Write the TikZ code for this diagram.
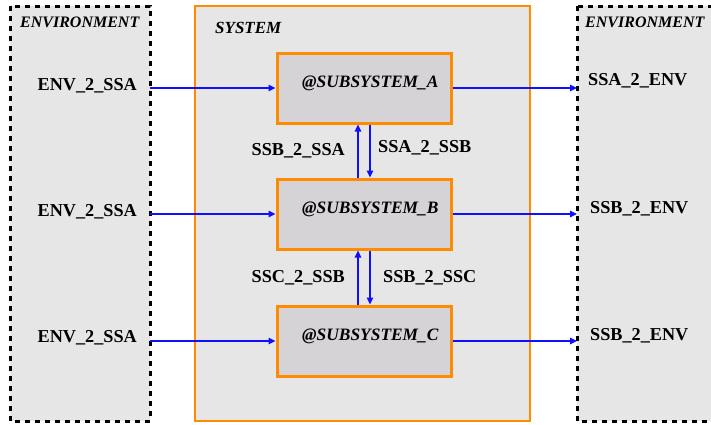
\documentclass[tikz,border=0pt]{standalone}
\usepackage{fontspec}
\setmainfont{Liberation Serif}
\usetikzlibrary{arrows.meta}
\definecolor{envgray}{HTML}{E6E6E6}
\definecolor{subgray}{HTML}{D5D3D6}
\definecolor{sysorange}{HTML}{FF8C00}
\definecolor{flowblue}{HTML}{1010FF}
\tikzset{
  envbox/.style={draw=black, fill=envgray, line width=3pt, dash pattern=on 5pt off 5pt},
  sysbox/.style={draw=sysorange, fill=envgray, line width=2.8pt},
  subbox/.style={draw=sysorange, fill=subgray, line width=3pt},
  title/.style={font=\fontsize{16}{16}\selectfont\bfseries\itshape, anchor=base west, inner sep=0pt},
  subtitle/.style={font=\fontsize{17.4}{17}\selectfont\bfseries\itshape, anchor=base west, inner sep=0pt},
  flowlabel/.style={font=\fontsize{18.2}{18}\selectfont\bfseries, inner sep=0pt},
  flow/.style={draw=flowblue, line width=1.1pt, -{Triangle[length=7pt,width=6.5pt]}},
}
\begin{document}
\begin{tikzpicture}[x=1pt,y=-1pt]
\useasboundingbox (0,0) rectangle (711,424);
\fill[white] (0,0) rectangle (711,424);

% environment and system frames
\path[envbox] (10,6) rectangle (150,421);
\path[envbox] (577,6) rectangle (720,421);
\path[sysbox] (195,6) rectangle (530,421);

\node[title] (envL) at (20,27) {ENVIRONMENT};
\node[title] (envR) at (585,27) {ENVIRONMENT};
\node[font=\fontsize{17}{17}\selectfont\bfseries\itshape, anchor=base west, inner sep=0pt] (sys) at (215,33) {SYSTEM};

% subsystems
\node[subbox, minimum width=174pt, minimum height=70pt] (A) at (364,88) {};
\node[subbox, minimum width=174pt, minimum height=70pt] (B) at (364,214) {};
\node[subbox, minimum width=174pt, minimum height=70pt] (C) at (364,341) {};
\node[subtitle] (tA) at (302,87) {@SUBSYSTEM\_A};
\node[subtitle] (tB) at (302,213) {@SUBSYSTEM\_B};
\node[subtitle] (tC) at (302,340) {@SUBSYSTEM\_C};

% inputs from the environment
\node[flowlabel, anchor=base east] (inA) at (137,90) {ENV\_2\_SSA};
\node[flowlabel, anchor=base east] (inB) at (137,216) {ENV\_2\_SSA};
\node[flowlabel, anchor=base east] (inC) at (137,342) {ENV\_2\_SSA};
\coordinate (srcA) at (150,88);
\coordinate (srcB) at (150,214);
\coordinate (srcC) at (150,341);
\draw[flow] (srcA) -- (A.west);
\draw[flow] (srcB) -- (B.west);
\draw[flow] (srcC) -- (C.west);

% outputs to the environment
\coordinate (dstA) at (577,88);
\coordinate (dstB) at (577,214);
\coordinate (dstC) at (577,341);
\draw[flow] (A.east) -- (dstA);
\draw[flow] (B.east) -- (dstB);
\draw[flow] (C.east) -- (dstC);
\node[flowlabel, anchor=base west] (outA) at (588,85) {SSA\_2\_ENV};
\node[flowlabel, anchor=base west] (outB) at (590,213) {SSB\_2\_ENV};
\node[flowlabel, anchor=base west] (outC) at (590,340) {SSB\_2\_ENV};

% exchanges between subsystems
\draw[flow] (B.north -| 358,0) -- (A.south -| 358,0);
\draw[flow] (A.south -| 370,0) -- (B.north -| 370,0);
\draw[flow] (C.north -| 358,0) -- (B.south -| 358,0);
\draw[flow] (B.south -| 370,0) -- (C.north -| 370,0);
\node[flowlabel, anchor=base east] (ba) at (345,155) {SSB\_2\_SSA};
\node[flowlabel, anchor=base west] (ab) at (378,152) {SSA\_2\_SSB};
\node[flowlabel, anchor=base east] (cb) at (345,282) {SSC\_2\_SSB};
\node[flowlabel, anchor=base west] (bc) at (383,282) {SSB\_2\_SSC};
\end{tikzpicture}
\end{document}
